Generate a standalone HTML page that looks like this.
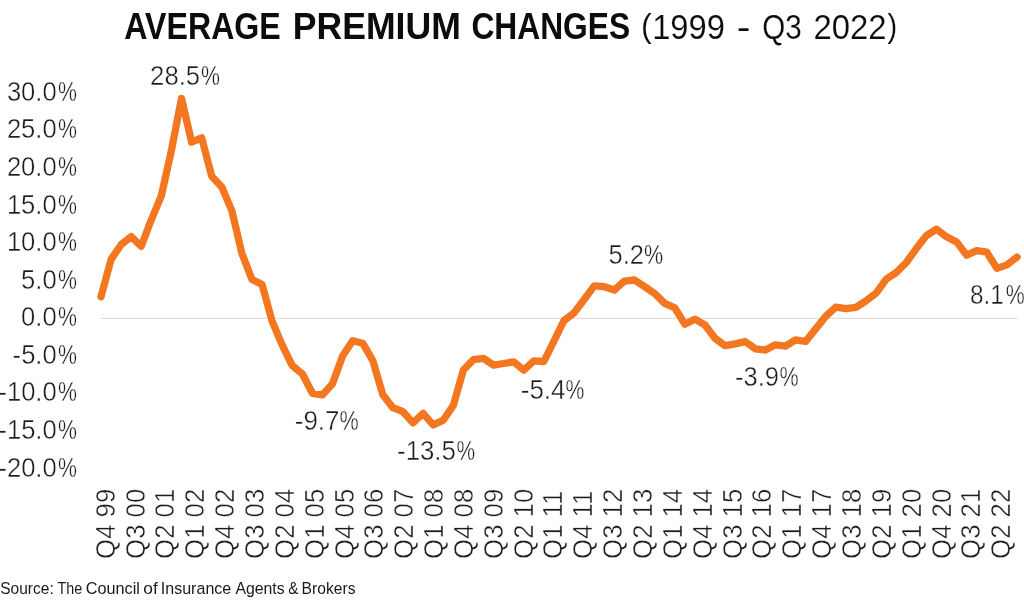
<!DOCTYPE html>
<html lang="en">
<head>
<meta charset="utf-8">
<title>Average Premium Changes (1999 - Q3 2022)</title>
<style>
html,body{margin:0;padding:0;background:#fff;}
body{width:1024px;height:614px;overflow:hidden;}
svg{display:block;will-change:transform;}
text{font-family:"Liberation Sans", Arial, Helvetica, sans-serif;}
.thinY{stroke:#fff;stroke-width:0.4;}
.thinX{stroke:#fff;stroke-width:0.45;}
.thinT{stroke:#fff;stroke-width:0.15;}
</style>
</head>
<body>
<svg width="1024" height="614" viewBox="0 0 1024 614">
<rect width="1024" height="614" fill="#ffffff"/>
<!-- zero axis line -->
<line x1="101" y1="318.35" x2="1017" y2="318.35" stroke="#d9d9d9" stroke-width="1"/>
<!-- title-b -->
<text class="title-b" y="38.90" font-size="36.1" font-weight="700" fill="#0c0c0c"><tspan x="124.31" textLength="156.46" lengthAdjust="spacingAndGlyphs">AVERAGE</tspan> <tspan x="292.73" textLength="168.07" lengthAdjust="spacingAndGlyphs">PREMIUM</tspan> <tspan x="471.38" textLength="158.83" lengthAdjust="spacingAndGlyphs">CHANGES</tspan></text>
<!-- title-r -->
<text class="title-r thinT" y="38.90" font-size="35.4" font-weight="400" fill="#0c0c0c"><tspan x="641.08" y="36.70" font-size="33.5" textLength="10.71" lengthAdjust="spacingAndGlyphs">(</tspan><tspan x="652.16" y="38.90" textLength="72.76" lengthAdjust="spacingAndGlyphs">1999</tspan> <tspan x="736.75" textLength="13.74" lengthAdjust="spacingAndGlyphs">-</tspan> <tspan x="762.24" textLength="39.50" lengthAdjust="spacingAndGlyphs">Q3</tspan> <tspan x="813.58" textLength="73.05" lengthAdjust="spacingAndGlyphs">2022</tspan><tspan x="887.38" y="36.70" font-size="33.5" textLength="9.69" lengthAdjust="spacingAndGlyphs">)</tspan></text>
<!-- ylab -->
<text class="ylab thinY" y="100.75" font-size="27.9" font-weight="400" fill="#1c1c1c"><tspan x="6.88" textLength="49.78" lengthAdjust="spacingAndGlyphs">30.0</tspan><tspan x="57.89" textLength="18.97" lengthAdjust="spacingAndGlyphs">%</tspan></text>
<text class="ylab thinY" y="138.34" font-size="27.9" font-weight="400" fill="#1c1c1c"><tspan x="6.88" textLength="49.78" lengthAdjust="spacingAndGlyphs">25.0</tspan><tspan x="57.89" textLength="18.97" lengthAdjust="spacingAndGlyphs">%</tspan></text>
<text class="ylab thinY" y="175.93" font-size="27.9" font-weight="400" fill="#1c1c1c"><tspan x="6.88" textLength="49.78" lengthAdjust="spacingAndGlyphs">20.0</tspan><tspan x="57.89" textLength="18.97" lengthAdjust="spacingAndGlyphs">%</tspan></text>
<text class="ylab thinY" y="213.52" font-size="27.9" font-weight="400" fill="#1c1c1c"><tspan x="6.88" textLength="49.78" lengthAdjust="spacingAndGlyphs">15.0</tspan><tspan x="57.89" textLength="18.97" lengthAdjust="spacingAndGlyphs">%</tspan></text>
<text class="ylab thinY" y="251.11" font-size="27.9" font-weight="400" fill="#1c1c1c"><tspan x="6.88" textLength="49.78" lengthAdjust="spacingAndGlyphs">10.0</tspan><tspan x="57.89" textLength="18.97" lengthAdjust="spacingAndGlyphs">%</tspan></text>
<text class="ylab thinY" y="288.70" font-size="27.9" font-weight="400" fill="#1c1c1c"><tspan x="21.09" textLength="35.56" lengthAdjust="spacingAndGlyphs">5.0</tspan><tspan x="57.89" textLength="18.97" lengthAdjust="spacingAndGlyphs">%</tspan></text>
<text class="ylab thinY" y="326.29" font-size="27.9" font-weight="400" fill="#1c1c1c"><tspan x="21.09" textLength="35.56" lengthAdjust="spacingAndGlyphs">0.0</tspan><tspan x="57.89" textLength="18.97" lengthAdjust="spacingAndGlyphs">%</tspan></text>
<text class="ylab thinY" y="363.88" font-size="27.9" font-weight="400" fill="#1c1c1c"><tspan x="12.61" textLength="44.07" lengthAdjust="spacingAndGlyphs">-5.0</tspan><tspan x="57.89" textLength="18.97" lengthAdjust="spacingAndGlyphs">%</tspan></text>
<text class="ylab thinY" y="401.47" font-size="27.9" font-weight="400" fill="#1c1c1c"><tspan x="-1.60" textLength="58.30" lengthAdjust="spacingAndGlyphs">-10.0</tspan><tspan x="57.89" textLength="18.97" lengthAdjust="spacingAndGlyphs">%</tspan></text>
<text class="ylab thinY" y="439.06" font-size="27.9" font-weight="400" fill="#1c1c1c"><tspan x="-1.60" textLength="58.30" lengthAdjust="spacingAndGlyphs">-15.0</tspan><tspan x="57.89" textLength="18.97" lengthAdjust="spacingAndGlyphs">%</tspan></text>
<text class="ylab thinY" y="476.65" font-size="27.9" font-weight="400" fill="#1c1c1c"><tspan x="-1.60" textLength="58.30" lengthAdjust="spacingAndGlyphs">-20.0</tspan><tspan x="57.89" textLength="18.97" lengthAdjust="spacingAndGlyphs">%</tspan></text>
<!-- dlab -->
<text class="dlab thinY" y="84.80" font-size="27.9" font-weight="400" fill="#1c1c1c"><tspan x="150.12" textLength="49.95" lengthAdjust="spacingAndGlyphs">28.5</tspan><tspan x="201.04" textLength="18.97" lengthAdjust="spacingAndGlyphs">%</tspan></text>
<text class="dlab thinY" y="429.90" font-size="27.9" font-weight="400" fill="#1c1c1c"><tspan x="294.79" textLength="44.75" lengthAdjust="spacingAndGlyphs">-9.7</tspan><tspan x="339.43" textLength="19.19" lengthAdjust="spacingAndGlyphs">%</tspan></text>
<text class="dlab thinY" y="460.30" font-size="27.9" font-weight="400" fill="#1c1c1c"><tspan x="397.04" textLength="58.87" lengthAdjust="spacingAndGlyphs">-13.5</tspan><tspan x="456.55" textLength="18.65" lengthAdjust="spacingAndGlyphs">%</tspan></text>
<text class="dlab thinY" y="398.90" font-size="27.9" font-weight="400" fill="#1c1c1c"><tspan x="520.74" textLength="44.73" lengthAdjust="spacingAndGlyphs">-5.4</tspan><tspan x="565.44" textLength="18.87" lengthAdjust="spacingAndGlyphs">%</tspan></text>
<text class="dlab thinY" y="263.50" font-size="27.9" font-weight="400" fill="#1c1c1c"><tspan x="608.56" textLength="35.45" lengthAdjust="spacingAndGlyphs">5.2</tspan><tspan x="643.88" textLength="19.19" lengthAdjust="spacingAndGlyphs">%</tspan></text>
<text class="dlab thinY" y="385.90" font-size="27.9" font-weight="400" fill="#1c1c1c"><tspan x="735.06" textLength="43.95" lengthAdjust="spacingAndGlyphs">-3.9</tspan><tspan x="779.43" textLength="19.19" lengthAdjust="spacingAndGlyphs">%</tspan></text>
<text class="dlab thinY" y="304.30" font-size="27.9" font-weight="400" fill="#1c1c1c"><tspan x="969.91" textLength="33.81" lengthAdjust="spacingAndGlyphs">8.1</tspan><tspan x="1005.74" textLength="18.97" lengthAdjust="spacingAndGlyphs">%</tspan></text>
<!-- src -->
<text class="src" y="593.60" font-size="16.9" font-weight="400" fill="#1a1a1a"><tspan x="0.21" textLength="53.56" lengthAdjust="spacingAndGlyphs">Source:</tspan> <tspan x="57.58" textLength="24.65" lengthAdjust="spacingAndGlyphs">The</tspan> <tspan x="85.78" textLength="54.19" lengthAdjust="spacingAndGlyphs">Council</tspan> <tspan x="143.33" textLength="14.47" lengthAdjust="spacingAndGlyphs">of</tspan> <tspan x="160.77" textLength="70.50" lengthAdjust="spacingAndGlyphs">Insurance</tspan> <tspan x="235.40" textLength="49.27" lengthAdjust="spacingAndGlyphs">Agents</tspan> <tspan x="288.15" textLength="10.20" lengthAdjust="spacingAndGlyphs">&amp;</tspan> <tspan x="301.61" textLength="53.96" lengthAdjust="spacingAndGlyphs">Brokers</tspan></text>
<!-- x axis labels -->
<text class="xlab thinX" transform="translate(114.70 558.89) rotate(-90)" font-size="27.0" fill="#1c1c1c" textLength="70.14" lengthAdjust="spacingAndGlyphs">Q4 99</text>
<text class="xlab thinX" transform="translate(144.55 558.89) rotate(-90)" font-size="27.0" fill="#1c1c1c" textLength="70.14" lengthAdjust="spacingAndGlyphs">Q3 00</text>
<text class="xlab thinX" transform="translate(174.40 558.89) rotate(-90)" font-size="27.0" fill="#1c1c1c" textLength="70.14" lengthAdjust="spacingAndGlyphs">Q2 01</text>
<text class="xlab thinX" transform="translate(204.25 558.89) rotate(-90)" font-size="27.0" fill="#1c1c1c" textLength="70.14" lengthAdjust="spacingAndGlyphs">Q1 02</text>
<text class="xlab thinX" transform="translate(234.10 558.89) rotate(-90)" font-size="27.0" fill="#1c1c1c" textLength="70.14" lengthAdjust="spacingAndGlyphs">Q4 02</text>
<text class="xlab thinX" transform="translate(263.95 558.89) rotate(-90)" font-size="27.0" fill="#1c1c1c" textLength="70.14" lengthAdjust="spacingAndGlyphs">Q3 03</text>
<text class="xlab thinX" transform="translate(293.80 558.89) rotate(-90)" font-size="27.0" fill="#1c1c1c" textLength="70.14" lengthAdjust="spacingAndGlyphs">Q2 04</text>
<text class="xlab thinX" transform="translate(323.65 558.89) rotate(-90)" font-size="27.0" fill="#1c1c1c" textLength="70.14" lengthAdjust="spacingAndGlyphs">Q1 05</text>
<text class="xlab thinX" transform="translate(353.50 558.89) rotate(-90)" font-size="27.0" fill="#1c1c1c" textLength="70.14" lengthAdjust="spacingAndGlyphs">Q4 05</text>
<text class="xlab thinX" transform="translate(383.35 558.89) rotate(-90)" font-size="27.0" fill="#1c1c1c" textLength="70.14" lengthAdjust="spacingAndGlyphs">Q3 06</text>
<text class="xlab thinX" transform="translate(413.20 558.89) rotate(-90)" font-size="27.0" fill="#1c1c1c" textLength="70.14" lengthAdjust="spacingAndGlyphs">Q2 07</text>
<text class="xlab thinX" transform="translate(443.05 558.89) rotate(-90)" font-size="27.0" fill="#1c1c1c" textLength="70.14" lengthAdjust="spacingAndGlyphs">Q1 08</text>
<text class="xlab thinX" transform="translate(472.90 558.89) rotate(-90)" font-size="27.0" fill="#1c1c1c" textLength="70.14" lengthAdjust="spacingAndGlyphs">Q4 08</text>
<text class="xlab thinX" transform="translate(502.75 558.89) rotate(-90)" font-size="27.0" fill="#1c1c1c" textLength="70.14" lengthAdjust="spacingAndGlyphs">Q3 09</text>
<text class="xlab thinX" transform="translate(532.60 558.89) rotate(-90)" font-size="27.0" fill="#1c1c1c" textLength="70.14" lengthAdjust="spacingAndGlyphs">Q2 10</text>
<text class="xlab thinX" transform="translate(562.45 558.89) rotate(-90)" font-size="27.0" fill="#1c1c1c" textLength="68.23" lengthAdjust="spacingAndGlyphs">Q1 11</text>
<text class="xlab thinX" transform="translate(592.30 558.89) rotate(-90)" font-size="27.0" fill="#1c1c1c" textLength="68.23" lengthAdjust="spacingAndGlyphs">Q4 11</text>
<text class="xlab thinX" transform="translate(622.15 558.89) rotate(-90)" font-size="27.0" fill="#1c1c1c" textLength="70.14" lengthAdjust="spacingAndGlyphs">Q3 12</text>
<text class="xlab thinX" transform="translate(652.00 558.89) rotate(-90)" font-size="27.0" fill="#1c1c1c" textLength="70.14" lengthAdjust="spacingAndGlyphs">Q2 13</text>
<text class="xlab thinX" transform="translate(681.85 558.89) rotate(-90)" font-size="27.0" fill="#1c1c1c" textLength="70.14" lengthAdjust="spacingAndGlyphs">Q1 14</text>
<text class="xlab thinX" transform="translate(711.70 558.89) rotate(-90)" font-size="27.0" fill="#1c1c1c" textLength="70.14" lengthAdjust="spacingAndGlyphs">Q4 14</text>
<text class="xlab thinX" transform="translate(741.55 558.89) rotate(-90)" font-size="27.0" fill="#1c1c1c" textLength="70.14" lengthAdjust="spacingAndGlyphs">Q3 15</text>
<text class="xlab thinX" transform="translate(771.40 558.89) rotate(-90)" font-size="27.0" fill="#1c1c1c" textLength="70.14" lengthAdjust="spacingAndGlyphs">Q2 16</text>
<text class="xlab thinX" transform="translate(801.25 558.89) rotate(-90)" font-size="27.0" fill="#1c1c1c" textLength="70.14" lengthAdjust="spacingAndGlyphs">Q1 17</text>
<text class="xlab thinX" transform="translate(831.10 558.89) rotate(-90)" font-size="27.0" fill="#1c1c1c" textLength="70.14" lengthAdjust="spacingAndGlyphs">Q4 17</text>
<text class="xlab thinX" transform="translate(860.95 558.89) rotate(-90)" font-size="27.0" fill="#1c1c1c" textLength="70.14" lengthAdjust="spacingAndGlyphs">Q3 18</text>
<text class="xlab thinX" transform="translate(890.80 558.89) rotate(-90)" font-size="27.0" fill="#1c1c1c" textLength="70.14" lengthAdjust="spacingAndGlyphs">Q2 19</text>
<text class="xlab thinX" transform="translate(920.65 558.89) rotate(-90)" font-size="27.0" fill="#1c1c1c" textLength="70.14" lengthAdjust="spacingAndGlyphs">Q1 20</text>
<text class="xlab thinX" transform="translate(950.50 558.89) rotate(-90)" font-size="27.0" fill="#1c1c1c" textLength="70.14" lengthAdjust="spacingAndGlyphs">Q4 20</text>
<text class="xlab thinX" transform="translate(980.35 558.89) rotate(-90)" font-size="27.0" fill="#1c1c1c" textLength="70.14" lengthAdjust="spacingAndGlyphs">Q3 21</text>
<text class="xlab thinX" transform="translate(1010.20 558.89) rotate(-90)" font-size="27.0" fill="#1c1c1c" textLength="70.14" lengthAdjust="spacingAndGlyphs">Q2 22</text>
<!-- data line -->
<polyline points="101.0,296.8 111.1,259.4 121.1,244.7 131.2,236.6 141.3,246.3 151.3,219.8 161.4,195.6 171.5,150.0 181.5,98.4 191.6,142.1 201.7,137.9 211.7,176.2 221.8,187.0 231.9,210.9 241.9,253.5 252.0,279.5 262.1,284.6 272.1,321.1 282.2,345.2 292.3,365.7 302.3,373.8 312.4,393.3 322.5,394.9 332.5,383.8 342.6,356.0 352.6,340.8 362.7,343.2 372.8,360.6 382.8,394.8 392.9,407.7 403.0,411.7 413.0,422.9 423.1,413.3 433.2,424.9 443.2,420.2 453.3,405.4 463.4,370.0 473.4,359.6 483.5,358.4 493.6,365.1 503.6,363.5 513.7,361.8 523.8,370.1 533.8,360.8 543.9,361.5 554.0,341.0 564.0,320.5 574.1,312.8 584.2,299.5 594.2,285.8 604.3,286.7 614.4,290.0 624.4,281.1 634.5,280.0 644.6,286.6 654.6,293.4 664.7,303.3 674.8,307.8 684.8,324.2 694.9,319.2 705.0,325.0 715.0,338.2 725.1,345.7 735.2,343.9 745.2,341.6 755.3,348.8 765.4,350.1 775.4,344.8 785.5,346.1 795.6,339.8 805.6,341.5 815.7,328.9 825.8,316.3 835.8,307.1 845.9,308.6 856.0,307.4 866.0,300.9 876.1,293.1 886.1,279.3 896.2,272.6 906.3,262.5 916.3,248.6 926.4,235.6 936.5,229.2 946.5,236.8 956.6,241.9 966.7,255.2 976.7,250.7 986.8,252.2 996.9,268.4 1006.9,264.9 1017.0,257.0" fill="none" stroke="#F37721" stroke-width="7.3" stroke-linejoin="round" stroke-linecap="round"/>
</svg>
</body>
</html>
